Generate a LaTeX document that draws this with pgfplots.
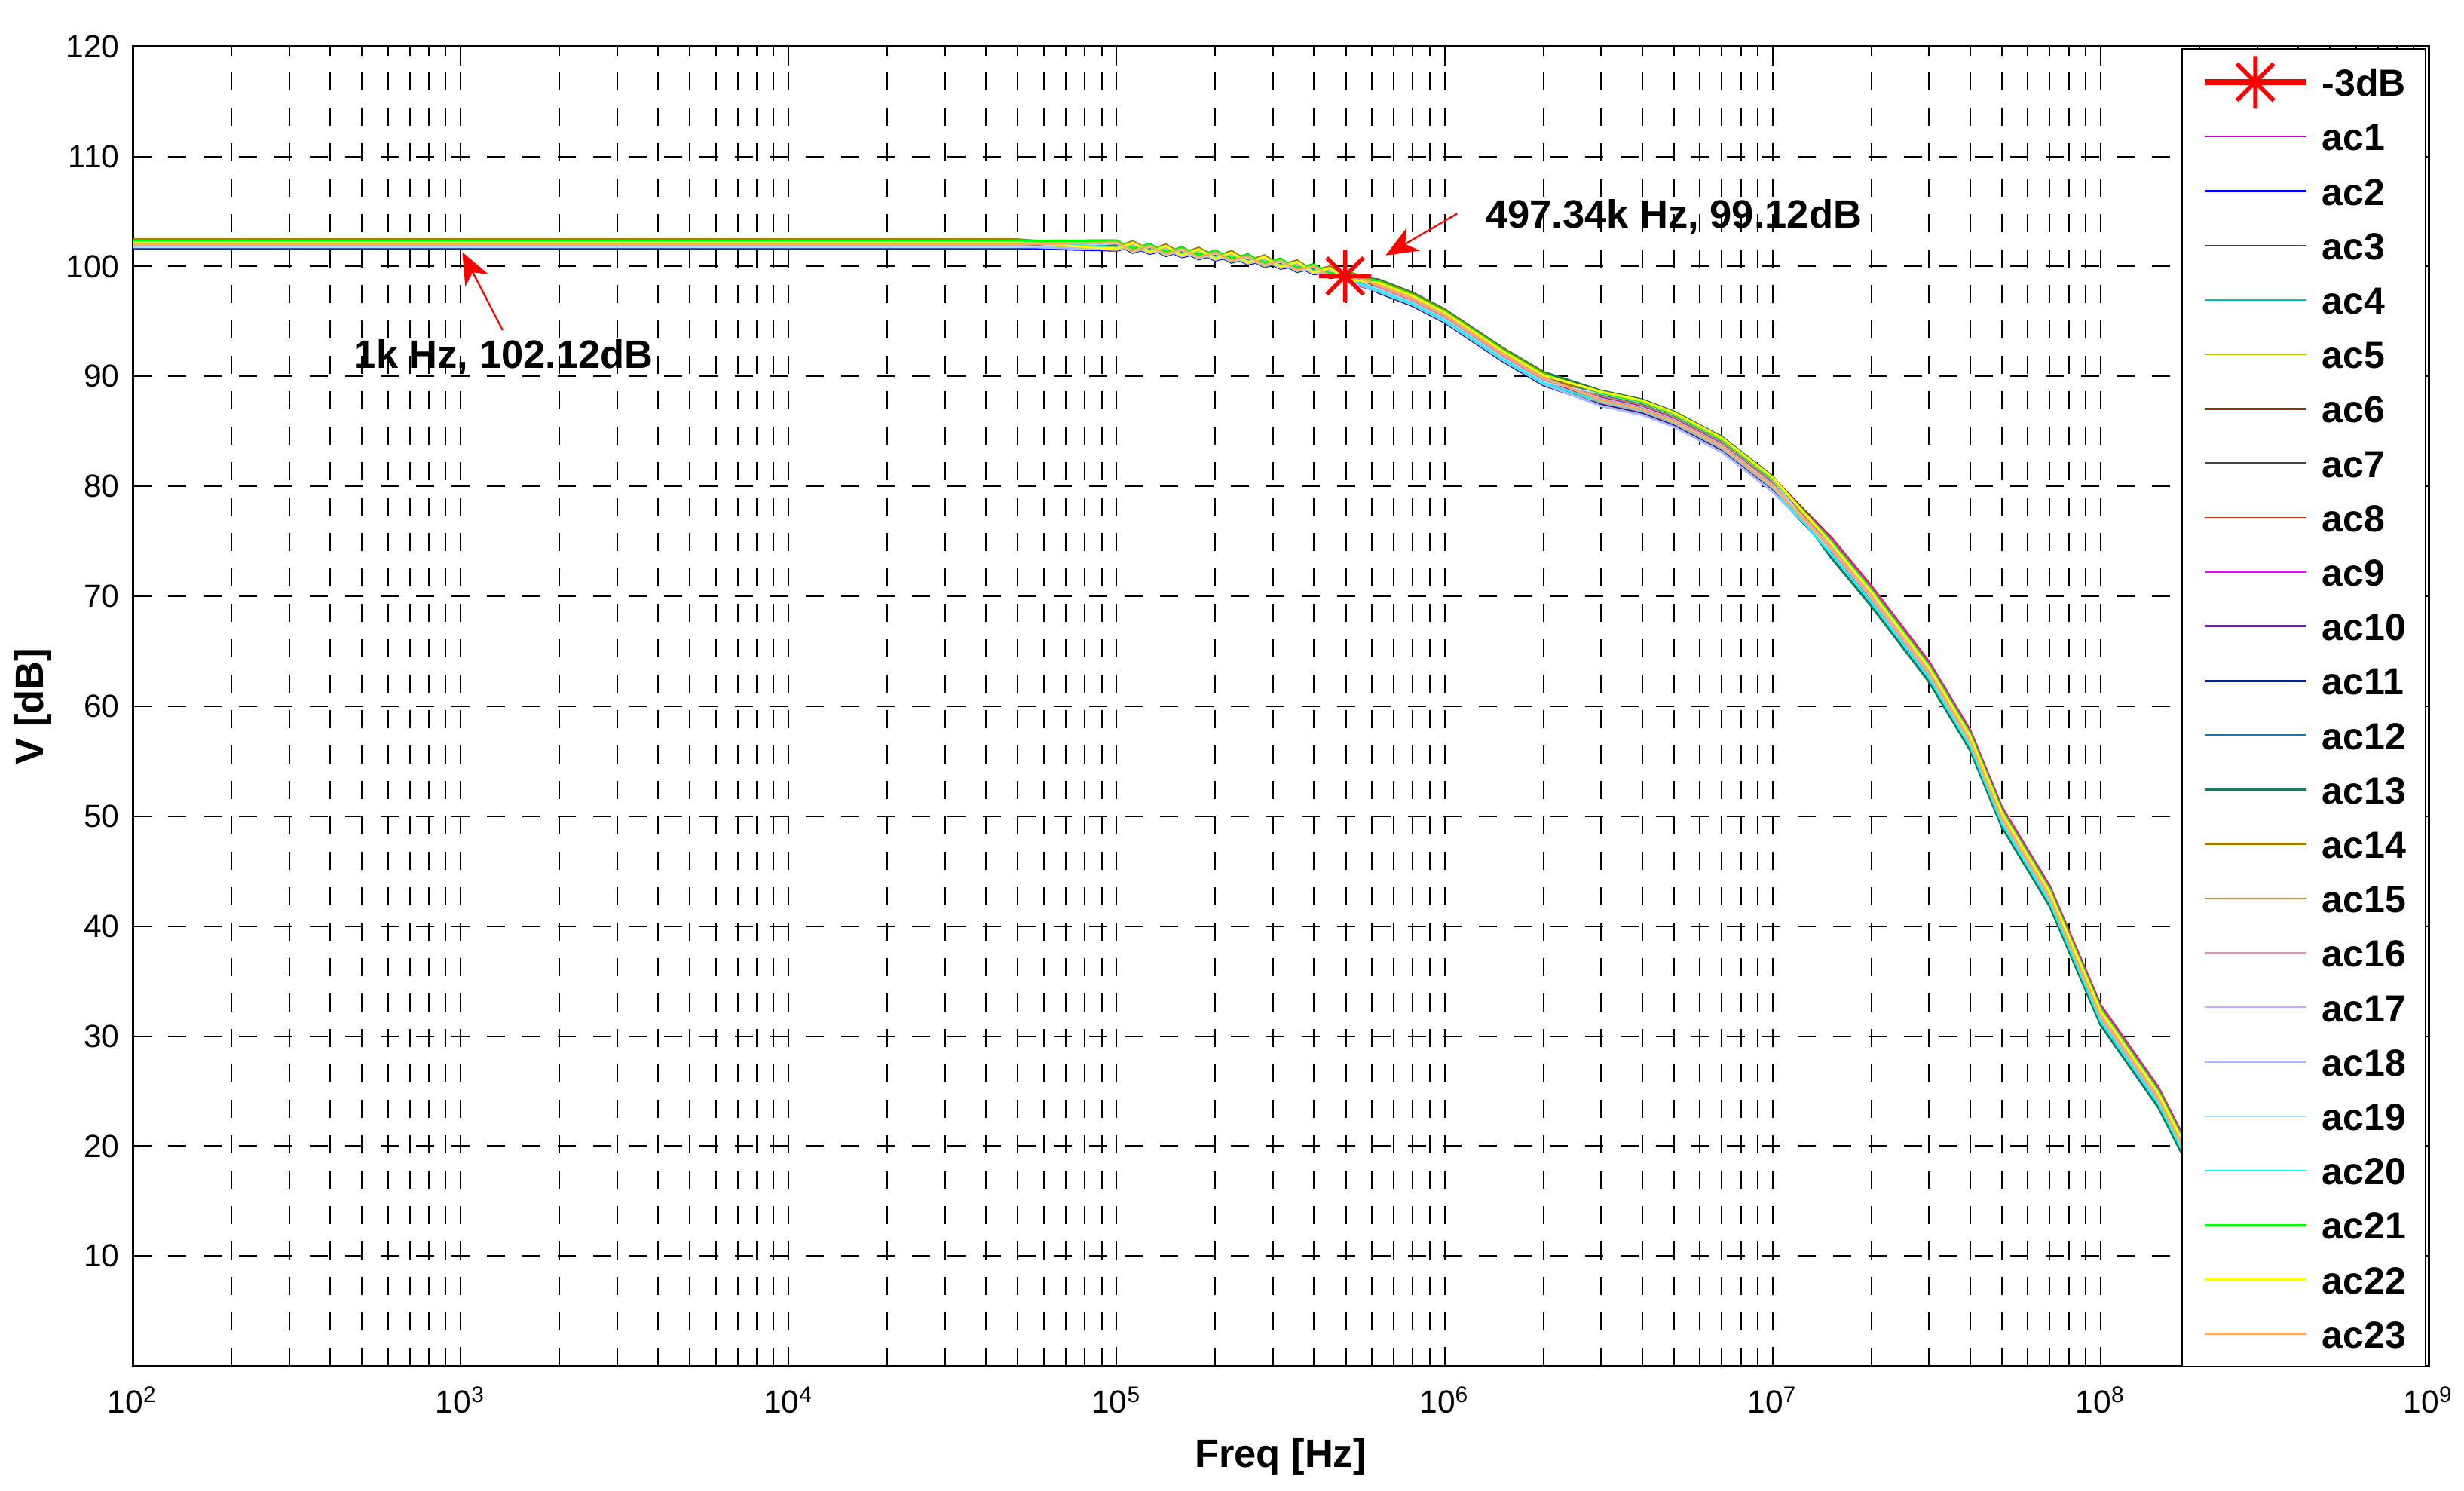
\documentclass[border=0pt]{standalone}
\usepackage{fontspec}
\setmainfont{Liberation Sans}
\usepackage{pgfplots}
\usepackage{pgfplotstable}
\pgfplotsset{compat=1.18}
\usetikzlibrary{arrows.meta}

\definecolor{c1}{RGB}{204,0,204}
\definecolor{c2}{RGB}{0,0,255}
\definecolor{c3}{RGB}{0,128,0}
\definecolor{c4}{RGB}{0,191,191}
\definecolor{c5}{RGB}{191,191,0}
\definecolor{c6}{RGB}{153,51,0}
\definecolor{c7}{RGB}{68,68,68}
\definecolor{c8}{RGB}{204,51,17}
\definecolor{c9}{RGB}{255,0,255}
\definecolor{c10}{RGB}{119,17,221}
\definecolor{c11}{RGB}{17,34,136}
\definecolor{c12}{RGB}{34,119,170}
\definecolor{c13}{RGB}{34,119,85}
\definecolor{c14}{RGB}{170,119,0}
\definecolor{c15}{RGB}{204,136,51}
\definecolor{c16}{RGB}{255,136,187}
\definecolor{c17}{RGB}{204,170,238}
\definecolor{c18}{RGB}{170,187,255}
\definecolor{c19}{RGB}{170,221,255}
\definecolor{c20}{RGB}{0,255,255}
\definecolor{c21}{RGB}{0,255,0}
\definecolor{c22}{RGB}{255,255,0}
\definecolor{c23}{RGB}{255,170,102}

\pgfdeclareplotmark{mstar}{%
  \pgfpathmoveto{\pgfqpoint{0pt}{\pgfplotmarksize}}\pgfpathlineto{\pgfqpoint{0pt}{-\pgfplotmarksize}}%
  \pgfpathmoveto{\pgfqpoint{\pgfplotmarksize}{0pt}}\pgfpathlineto{\pgfqpoint{-\pgfplotmarksize}{0pt}}%
  \pgfpathmoveto{\pgfqpoint{.7071\pgfplotmarksize}{.7071\pgfplotmarksize}}\pgfpathlineto{\pgfqpoint{-.7071\pgfplotmarksize}{-.7071\pgfplotmarksize}}%
  \pgfpathmoveto{\pgfqpoint{-.7071\pgfplotmarksize}{.7071\pgfplotmarksize}}\pgfpathlineto{\pgfqpoint{.7071\pgfplotmarksize}{-.7071\pgfplotmarksize}}%
  \pgfusepathqstroke}

\pgfplotstableread{
f a1 a2 a3 a4 a5 a6 a7 a8 a9 a10 a11 a12 a13 a14 a15 a16 a17 a18 a19 a20 a21 a22 a23
1e2 102.15 101.65 102.35 102.05 102.25 101.95 101.75 102.15 101.85 102.05 101.65 102.25 101.70 102.45 102.20 101.90 102.10 101.80 101.75 102.30 102.35 102.15 102.00
1e4 102.15 101.65 102.35 102.05 102.25 101.95 101.75 102.15 101.85 102.05 101.65 102.25 101.70 102.45 102.20 101.90 102.10 101.80 101.75 102.30 102.35 102.15 102.00
5e4 102.15 101.65 102.35 102.05 102.25 101.95 101.75 102.15 101.85 102.05 101.65 102.25 101.70 102.45 102.20 101.90 102.10 101.80 101.75 102.30 102.35 102.15 102.00
1.00e5 102.25 101.45 102.40 101.60 102.25 101.50 102.05 101.65 102.15 101.65 102.00 101.70 101.97 101.75 102.28 101.52 102.28 101.52 102.05 101.73 102.30 101.60 102.17
1.12e5 101.50 101.80 101.55 102.05 101.60 102.05 101.30 102.10 101.30 102.00 101.25 102.15 101.32 102.30 101.53 101.97 101.43 101.87 101.30 102.18 101.65 102.15 101.42
1.26e5 101.95 101.15 102.10 101.30 101.95 101.20 101.75 101.35 101.85 101.35 101.70 101.40 101.67 101.45 101.98 101.22 101.98 101.22 101.75 101.43 102.00 101.30 101.87
1.41e5 101.20 101.50 101.25 101.75 101.30 101.75 101.00 101.80 101.00 101.70 100.95 101.85 101.02 102.00 101.23 101.67 101.13 101.57 101.00 101.88 101.35 101.85 101.12
1.58e5 101.65 100.85 101.80 101.00 101.65 100.90 101.45 101.05 101.55 101.05 101.40 101.10 101.37 101.15 101.68 100.92 101.68 100.92 101.45 101.13 101.70 101.00 101.57
1.78e5 100.90 101.20 100.95 101.45 101.00 101.45 100.70 101.50 100.70 101.40 100.65 101.55 100.72 101.70 100.93 101.37 100.83 101.27 100.70 101.58 101.05 101.55 100.82
2.00e5 101.35 100.55 101.50 100.70 101.35 100.60 101.15 100.75 101.25 100.75 101.10 100.80 101.07 100.85 101.38 100.62 101.38 100.62 101.15 100.83 101.40 100.70 101.27
2.24e5 100.60 100.90 100.65 101.15 100.70 101.15 100.40 101.20 100.40 101.10 100.35 101.25 100.42 101.40 100.63 101.07 100.53 100.97 100.40 101.28 100.75 101.25 100.52
2.51e5 101.00 100.20 101.15 100.35 101.00 100.25 100.80 100.40 100.90 100.40 100.75 100.45 100.72 100.50 101.03 100.27 101.03 100.27 100.80 100.48 101.05 100.35 100.92
2.82e5 100.20 100.50 100.25 100.75 100.30 100.75 100.00 100.80 100.00 100.70 99.95 100.85 100.02 101.00 100.23 100.67 100.13 100.57 100.00 100.88 100.35 100.85 100.12
3.16e5 100.60 99.80 100.75 99.95 100.60 99.85 100.40 100.00 100.50 100.00 100.35 100.05 100.32 100.10 100.63 99.87 100.63 99.87 100.40 100.08 100.65 99.95 100.52
3.55e5 99.75 100.05 99.80 100.30 99.85 100.30 99.55 100.35 99.55 100.25 99.50 100.40 99.57 100.55 99.78 100.22 99.68 100.12 99.55 100.43 99.90 100.40 99.67
3.98e5 100.10 99.30 100.25 99.45 100.10 99.35 99.90 99.50 100.00 99.50 99.85 99.55 99.82 99.60 100.13 99.37 100.13 99.37 99.90 99.58 100.15 99.45 100.02
4.47e5 99.20 99.50 99.25 99.75 99.30 99.75 99.00 99.80 99.00 99.70 98.95 99.85 99.02 100.00 99.23 99.67 99.13 99.57 99.00 99.88 99.35 99.85 99.12
5.01e5 99.45 98.65 99.60 98.80 99.45 98.70 99.25 98.85 99.35 98.85 99.20 98.90 99.17 98.95 99.48 98.72 99.48 98.72 99.25 98.93 99.50 98.80 99.37
6.3e5 98.4 97.7 98.6 98.0 98.5 98.2 97.8 98.3 98.7 97.9 97.6 98.4 98.8 98.7 98.1 98.0 98.2 97.7 97.9 97.8 98.6 98.5 98.3
8e5 97.2 96.5 97.4 96.8 97.3 97.0 96.6 97.1 97.5 96.7 96.4 97.2 97.6 97.5 96.9 96.8 97.0 96.5 96.7 96.6 97.4 97.3 97.1
1e6 95.7 95.0 95.9 95.3 95.8 95.5 95.1 95.6 96.0 95.2 94.9 95.7 96.1 96.0 95.4 95.3 95.5 95.0 95.2 95.1 95.9 95.8 95.6
1.5e6 92.2 91.5 92.4 91.8 92.3 92.0 91.6 92.1 92.5 91.7 91.4 92.2 92.6 92.5 91.9 91.8 92.0 91.5 91.7 91.6 92.4 92.3 92.1
2e6 90.0 89.3 90.2 89.6 90.1 89.8 89.4 89.9 90.3 89.5 89.2 90.0 90.4 90.3 89.7 89.6 89.8 89.3 89.5 89.4 90.2 90.1 89.9
3e6 88.3 88.2 87.6 88.5 87.8 88.6 87.7 87.5 88.4 88.1 87.4 88.3 88.7 87.9 88.2 87.6 88.0 87.3 88.4 87.7 88.5 88.6 87.8
4e6 87.5 87.4 86.8 87.7 87.0 87.8 86.9 86.7 87.6 87.3 86.6 87.5 87.9 87.1 87.4 86.8 87.2 86.5 87.6 86.9 87.7 87.8 87.0
5e6 86.4 86.3 85.7 86.6 85.9 86.7 85.8 85.6 86.5 86.2 85.5 86.4 86.8 86.0 86.3 85.7 86.1 85.4 86.5 85.8 86.6 86.7 85.9
7e6 84.1 84.0 83.4 84.3 83.6 84.4 83.5 83.3 84.2 83.9 83.2 84.1 84.5 83.7 84.0 83.4 83.8 83.1 84.2 83.5 84.3 84.4 83.6
1e7 80.5 80.4 79.8 80.7 80.0 80.8 79.9 79.7 80.6 80.3 79.6 80.5 80.9 80.1 80.4 79.8 80.2 79.5 80.6 79.9 80.7 80.8 80.0
1.5e7 74.2 75.2 74.3 75.1 74.0 75.4 74.9 75.5 75.3 74.4 74.1 73.8 73.6 75.0 74.8 74.5 74.6 74.3 74.0 73.9 75.1 74.9 74.4
2e7 69.7 70.7 69.8 70.6 69.5 70.9 70.4 71.0 70.8 69.9 69.6 69.3 69.1 70.5 70.3 70.0 70.1 69.8 69.5 69.4 70.6 70.4 69.9
3e7 62.8 63.8 62.9 63.7 62.6 64.0 63.5 64.1 63.9 63.0 62.7 62.4 62.2 63.6 63.4 63.1 63.2 62.9 62.6 62.5 63.7 63.5 63.0
4e7 56.6 57.6 56.7 57.5 56.4 57.8 57.3 57.9 57.7 56.8 56.5 56.2 56.0 57.4 57.2 56.9 57.0 56.7 56.4 56.3 57.5 57.3 56.8
5e7 49.6 50.6 49.7 50.5 49.4 50.8 50.3 50.9 50.7 49.8 49.5 49.2 49.0 50.4 50.2 49.9 50.0 49.7 49.4 49.3 50.5 50.3 49.8
7e7 42.4 43.4 42.5 43.3 42.2 43.6 43.1 43.7 43.5 42.6 42.3 42.0 41.8 43.2 43.0 42.7 42.8 42.5 42.2 42.1 43.3 43.1 42.6
1e8 31.6 32.6 31.7 32.5 31.4 32.8 32.3 32.9 32.7 31.8 31.5 31.2 31.0 32.4 32.2 31.9 32.0 31.7 31.4 31.3 32.5 32.3 31.8
1.5e8 24.1 25.1 24.2 25.0 23.9 25.3 24.8 25.4 25.2 24.3 24.0 23.7 23.5 24.9 24.7 24.4 24.5 24.2 23.9 23.8 25.0 24.8 24.3
2e8 16.8 17.8 16.9 17.7 16.6 18.0 17.5 18.1 17.9 17.0 16.7 16.4 16.2 17.6 17.4 17.1 17.2 16.9 16.6 16.5 17.7 17.5 17.0
3e8 8.6 9.6 8.7 9.5 8.4 9.8 9.3 9.9 9.7 8.8 8.5 8.2 8.0 9.4 9.2 8.9 9.0 8.7 8.4 8.3 9.5 9.3 8.8
}\acdata

\begin{document}
\begin{tikzpicture}
\useasboundingbox (-35.2pt,-33pt) rectangle (618.6pt,362.44pt);
\begin{axis}[
  at={(0pt,0pt)}, anchor=south west,
  scale only axis, width=609.2pt, height=350.1pt,
  xmode=log, log basis x=10,
  xmin=1e2, xmax=1e9, ymin=0, ymax=120,
  xtick={1e2,1e3,1e4,1e5,1e6,1e7,1e8,1e9},
  xticklabels={10\textsuperscript{2},10\textsuperscript{3},10\textsuperscript{4},10\textsuperscript{5},10\textsuperscript{6},10\textsuperscript{7},10\textsuperscript{8},10\textsuperscript{9}},
  minor xtick={2e2,3e2,4e2,5e2,6e2,7e2,8e2,9e2,2e3,3e3,4e3,5e3,6e3,7e3,8e3,9e3,2e4,3e4,4e4,5e4,6e4,7e4,8e4,9e4,2e5,3e5,4e5,5e5,6e5,7e5,8e5,9e5,2e6,3e6,4e6,5e6,6e6,7e6,8e6,9e6,2e7,3e7,4e7,5e7,6e7,7e7,8e7,9e7,2e8,3e8,4e8,5e8,6e8,7e8,8e8,9e8},
  ytick={10,20,30,40,50,60,70,80,90,100,110,120},
  /pgf/number format/assume math mode=true,
  tick label style={font=\fontsize{8.5}{10}\selectfont},
  xticklabel style={yshift=-2pt},
  xmajorgrids, xminorgrids, ymajorgrids,
  major grid style={black, line width=0.4pt, dash pattern=on 4.8pt off 4.6pt},
  minor grid style={black, line width=0.4pt, dash pattern=on 4.8pt off 4.6pt},
  tick align=inside, major tick length=5pt, minor tick length=2.5pt,
  tick style={black, line width=0.4pt},
  axis line style={line width=0.6pt},
  xlabel={Freq [Hz]}, ylabel={V [dB]},
  label style={font=\fontsize{10.5}{12}\selectfont\bfseries},
  xlabel style={at={(axis description cs:0.5,-0.069)}, anchor=center},
  ylabel style={at={(axis description cs:-0.0433,0.5)}, anchor=center},
  legend cell align=left,
  legend image code/.code={\draw[#1] (0pt,0pt) -- (27pt,0pt);},
  legend style={at={(1,1)}, anchor=north east, xshift=-0.6pt, yshift=-0.5pt,
    draw=black, line width=0.4pt, fill=white,
    inner xsep=5.2pt, inner ysep=5pt,
    row sep=6.94pt, column sep=3.5pt,
    font=\fontsize{10}{12}\selectfont\bfseries,
    nodes={inner sep=0pt, text height=7.5pt, text depth=0pt}},
]
\addplot[red, line width=1.1pt, mark=mstar, mark size=6.9pt,
  legend image code/.code={
    \draw[red, line width=1.5pt] (0pt,0pt) -- (27pt,0pt);
    \draw[overlay, red, line width=1.1pt, mark=mstar, mark size=6.9pt] plot coordinates {(13.5pt,0pt)};
  }] coordinates {(497340,99.12)};
\addlegendentry{-3dB}
\addplot[c1, line width=0.35pt] table[x=f, y=a1] {\acdata}; \addlegendentry{ac1}
\addplot[c2, line width=0.6pt] table[x=f, y=a2] {\acdata}; \addlegendentry{ac2}
\addplot[c3, line width=0.35pt] table[x=f, y=a3] {\acdata}; \addlegendentry{ac3}
\addplot[c4, line width=0.35pt] table[x=f, y=a4] {\acdata}; \addlegendentry{ac4}
\addplot[c5, line width=0.35pt] table[x=f, y=a5] {\acdata}; \addlegendentry{ac5}
\addplot[c6, line width=0.6pt] table[x=f, y=a6] {\acdata}; \addlegendentry{ac6}
\addplot[c7, line width=0.6pt] table[x=f, y=a7] {\acdata}; \addlegendentry{ac7}
\addplot[c8, line width=0.35pt] table[x=f, y=a8] {\acdata}; \addlegendentry{ac8}
\addplot[c9, line width=0.6pt] table[x=f, y=a9] {\acdata}; \addlegendentry{ac9}
\addplot[c10, line width=0.6pt] table[x=f, y=a10] {\acdata}; \addlegendentry{ac10}
\addplot[c11, line width=0.6pt] table[x=f, y=a11] {\acdata}; \addlegendentry{ac11}
\addplot[c12, line width=0.35pt] table[x=f, y=a12] {\acdata}; \addlegendentry{ac12}
\addplot[c13, line width=0.6pt] table[x=f, y=a13] {\acdata}; \addlegendentry{ac13}
\addplot[c14, line width=0.6pt] table[x=f, y=a14] {\acdata}; \addlegendentry{ac14}
\addplot[c15, line width=0.35pt] table[x=f, y=a15] {\acdata}; \addlegendentry{ac15}
\addplot[c16, line width=0.35pt] table[x=f, y=a16] {\acdata}; \addlegendentry{ac16}
\addplot[c17, line width=0.35pt] table[x=f, y=a17] {\acdata}; \addlegendentry{ac17}
\addplot[c18, line width=0.6pt] table[x=f, y=a18] {\acdata}; \addlegendentry{ac18}
\addplot[c19, line width=0.35pt] table[x=f, y=a19] {\acdata}; \addlegendentry{ac19}
\addplot[c20, line width=0.45pt] table[x=f, y=a20] {\acdata}; \addlegendentry{ac20}
\addplot[c21, line width=0.6pt] table[x=f, y=a21] {\acdata}; \addlegendentry{ac21}
\addplot[c22, line width=0.6pt] table[x=f, y=a22] {\acdata}; \addlegendentry{ac22}
\addplot[c23, line width=0.6pt] table[x=f, y=a23] {\acdata}; \addlegendentry{ac23}

\draw[red, line width=0.45pt, -{Stealth[length=8.5pt, width=7pt, inset=2.5pt]}] (axis cs:1.092e6,104.8) -- (axis cs:6.61e5,101.0);
\draw[red, line width=0.45pt, -{Stealth[length=8.5pt, width=7pt, inset=2.5pt]}] (axis cs:1343,94.2) -- (axis cs:1012,101.3);
\node[anchor=base west, inner sep=0pt, font=\fontsize{10.5}{12}\selectfont\bfseries] at (axis cs:1.327e6,103.5) {497.34k Hz, 99.12dB};
\node[anchor=base west, inner sep=0pt, font=\fontsize{10.5}{12}\selectfont\bfseries] at (axis cs:471,90.75) {1k Hz, 102.12dB};
\end{axis}
\end{tikzpicture}
\end{document}
